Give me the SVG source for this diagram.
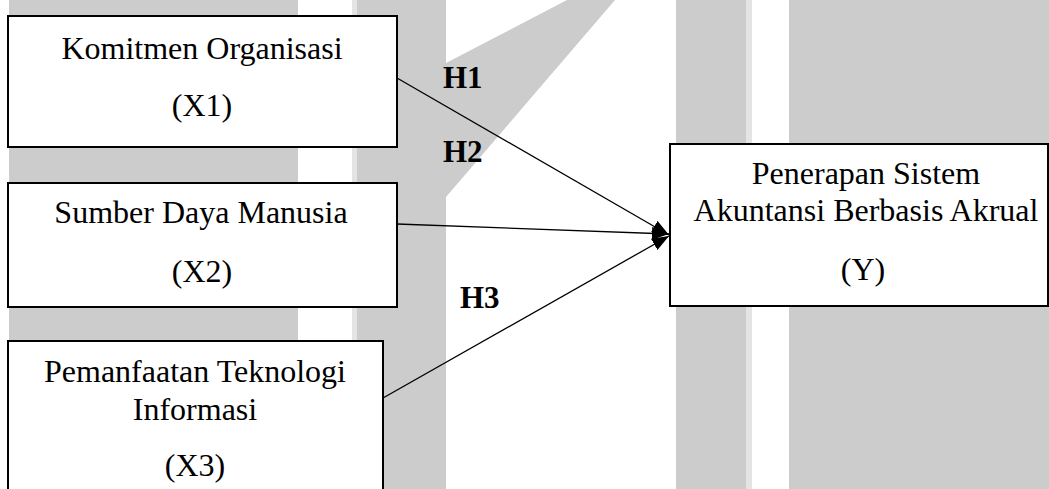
<svg xmlns="http://www.w3.org/2000/svg" width="1049" height="489" viewBox="0 0 1049 489">
  <style>
    .bg { fill: #cccccc; }
    .bgl { fill: #e4e4e4; }
    .box { fill: #ffffff; stroke: #000000; stroke-width: 2; }
    text { font-family: 'Liberation Serif', 'Times New Roman', 'DejaVu Serif', serif; fill: #000000; }
    .t { font-size: 32px; text-anchor: middle; }
    .h { font-size: 31px; font-weight: bold; }
    .conn { stroke: #000000; stroke-width: 1.3; fill: none; marker-end: url(#arr); }
  </style>
  <defs>
    <marker id="arr" markerUnits="userSpaceOnUse" viewBox="0 0 17 13" markerWidth="17" markerHeight="13" refX="17" refY="6.5" orient="auto">
      <path d="M0,0 L17,6.5 L0,13 Z" fill="#000000"/>
    </marker>
  </defs>
  <rect width="1049" height="489" fill="#ffffff"/>
  <g id="background">
    <rect class="bg" x="9" y="0" width="289" height="489"/>
    <rect class="bgl" x="352" y="0" width="5" height="489"/>
    <rect class="bg" x="357" y="0" width="89" height="489"/>
    <polygon class="bg" points="446,63 567,0 615,0 446,197"/>
    <rect class="bg" x="676" y="0" width="70" height="489"/>
    <rect class="bgl" x="746" y="0" width="6" height="489"/>
    <rect class="bg" x="789" y="0" width="260" height="489"/>
  </g>
  <g id="connectors">
    <line class="conn" x1="397" y1="78" x2="669" y2="235"/>
    <line class="conn" x1="397" y1="224" x2="669" y2="234"/>
    <line class="conn" x1="383" y1="398" x2="669" y2="236"/>
  </g>
  <g id="labels">
    <text class="h" x="443" y="88" font-family="Liberation Serif, serif">H1</text>
    <text class="h" x="443" y="162" font-family="Liberation Serif, serif">H2</text>
    <text class="h" x="460" y="308" font-family="Liberation Serif, serif">H3</text>
  </g>
  <g id="x1">
    <rect class="box" x="8" y="16" width="389" height="131"/>
    <text class="t" x="202" y="59" font-family="Liberation Serif, serif">Komitmen Organisasi</text>
    <text class="t" x="202" y="116" font-family="Liberation Serif, serif">(X1)</text>
  </g>
  <g id="x2">
    <rect class="box" x="8" y="183" width="389" height="124"/>
    <text class="t" x="201" y="223" font-family="Liberation Serif, serif">Sumber Daya Manusia</text>
    <text class="t" x="202" y="282" font-family="Liberation Serif, serif">(X2)</text>
  </g>
  <g id="x3">
    <rect class="box" x="8" y="341" width="375" height="170"/>
    <text class="t" x="195" y="382" font-family="Liberation Serif, serif">Pemanfaatan Teknologi</text>
    <text class="t" x="195" y="420" font-family="Liberation Serif, serif">Informasi</text>
    <text class="t" x="195" y="476" font-family="Liberation Serif, serif">(X3)</text>
  </g>
  <g id="y">
    <rect class="box" x="670" y="144" width="378" height="162"/>
    <text class="t" x="866" y="184" font-family="Liberation Serif, serif">Penerapan Sistem</text>
    <text class="t" x="866" y="221" font-family="Liberation Serif, serif">Akuntansi Berbasis Akrual</text>
    <text class="t" x="863" y="280" font-family="Liberation Serif, serif">(Y)</text>
  </g>
</svg>
